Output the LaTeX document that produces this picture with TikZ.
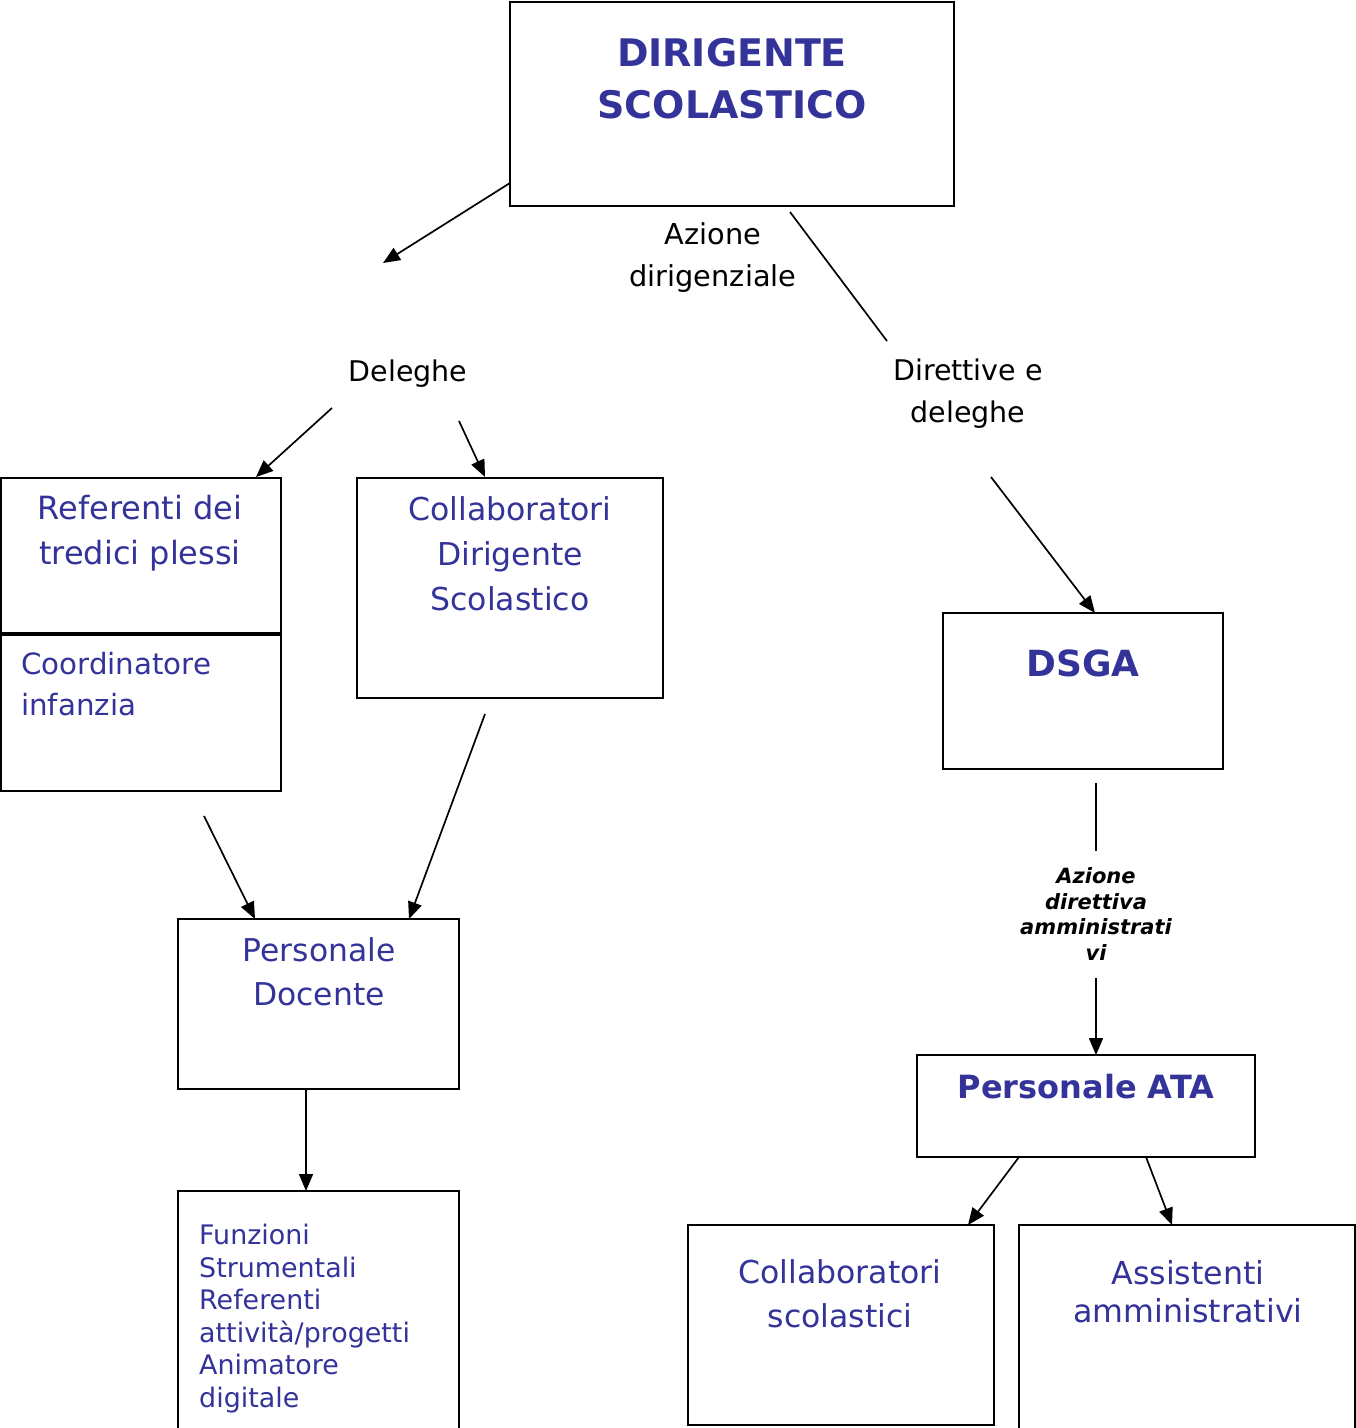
\documentclass[tikz,border=0pt]{standalone}
\usepackage{fontspec}
\setmainfont{DejaVu Sans}
\usetikzlibrary{arrows.meta}
\definecolor{dblue}{RGB}{51,51,153}
\tikzset{
  box/.style={draw=black, line width=2pt},
  lbl/.style={inner sep=0pt, align=center, text=dblue},
  blk/.style={inner sep=0pt, align=center, text=black},
  conn/.style={line width=1.7pt, draw=black},
  arr/.style={conn, -{Triangle[length=17pt,width=14pt]}},
}
\begin{document}
\begin{tikzpicture}[x=1pt,y=-1pt]
\useasboundingbox (0,0) rectangle (1356,1428);
% boxes
\draw[box] (510,2) rectangle (954,206);
\draw[box] (1,478) rectangle (281,633);
\draw[box] (1,635) rectangle (281,791);
\draw[box] (357,478) rectangle (663,698);
\draw[box] (943,613) rectangle (1223,769);
\draw[box] (178,919) rectangle (459,1089);
\draw[box] (178,1191) rectangle (459,1440);
\draw[box] (917,1055) rectangle (1255,1157);
\draw[box] (688,1225) rectangle (994,1425);
\draw[box] (1019,1225) rectangle (1355,1440);
% texts
\node[lbl, font=\fontsize{38}{52}\selectfont\bfseries] (dir) at (732,78.5) {DIRIGENTE\\SCOLASTICO};
\node[blk, font=\fontsize{28.8}{42}\selectfont] (azd) at (713,257.5) {Azione\\dirigenziale};
\node[blk, font=\fontsize{28.5}{42}\selectfont] (del) at (408,373.5) {Deleghe};
\node[blk, font=\fontsize{28.5}{42}\selectfont] (dirdel) at (968,393.5) {Direttive e\\deleghe};
\node[lbl, font=\fontsize{32}{45}\selectfont] (ref) at (140,533) {Referenti dei\\tredici plessi};
\node[lbl, align=left, anchor=west, font=\fontsize{29.3}{41}\selectfont] (coord) at (21,684.5) {Coordinatore\\infanzia};
\node[lbl, font=\fontsize{31.5}{45}\selectfont] (colds) at (510,554) {Collaboratori\\Dirigente\\Scolastico};
\node[lbl, font=\fontsize{36}{44}\selectfont\bfseries] (dsga) at (1083,663) {DSGA};
\node[lbl, font=\fontsize{31.4}{44}\selectfont] (doc) at (319,972) {Personale\\Docente};
\node[blk, font=\fontsize{21}{25.7}\selectfont\bfseries\itshape] (azdir) at (1096,914) {Azione\\direttiva\\amministrati\\vi};
\node[lbl, font=\fontsize{32}{40}\selectfont\bfseries] (ata) at (1086,1086.5) {Personale ATA};
\node[lbl, align=left, anchor=west, font=\fontsize{26.9}{32.6}\selectfont] (fun) at (199,1318.5) {Funzioni\\Strumentali\\Referenti\\attività/progetti\\Animatore\\digitale};
\node[lbl, font=\fontsize{31.5}{44}\selectfont] (colsc) at (840,1294) {Collaboratori\\scolastici};
\node[lbl, font=\fontsize{31.7}{38}\selectfont] (ass) at (1188,1292) {Assistenti\\amministrativi};
% connector end points
\coordinate (a1) at (510,183); \coordinate (a2) at (383,263);
\coordinate (b1) at (790,212); \coordinate (b2) at (887,341);
\coordinate (c1) at (332,408); \coordinate (c2) at (256,477);
\coordinate (d1) at (459,421); \coordinate (d2) at (485,477);
\coordinate (e1) at (991,477); \coordinate (e2) at (1095,613);
\coordinate (f1) at (485,714); \coordinate (f2) at (409,919);
\coordinate (g1) at (204,816); \coordinate (g2) at (255,919);
\coordinate (h1) at (1096,783); \coordinate (h2) at (1096,851);
\coordinate (i1) at (1096,978); \coordinate (i2) at (1096,1055);
\coordinate (j1) at (306,1089); \coordinate (j2) at (306,1191);
\coordinate (k1) at (1019,1157); \coordinate (k2) at (968,1225);
\coordinate (l1) at (1146,1157); \coordinate (l2) at (1172,1225);
\draw[arr] (a1) -- (a2);
\draw[conn] (b1) -- (b2);
\draw[arr] (c1) -- (c2);
\draw[arr] (d1) -- (d2);
\draw[arr] (e1) -- (e2);
\draw[arr] (f1) -- (f2);
\draw[arr] (g1) -- (g2);
\draw[conn] (h1) -- (h2);
\draw[arr] (i1) -- (i2);
\draw[arr] (j1) -- (j2);
\draw[arr] (k1) -- (k2);
\draw[arr] (l1) -- (l2);
\end{tikzpicture}
\end{document}
